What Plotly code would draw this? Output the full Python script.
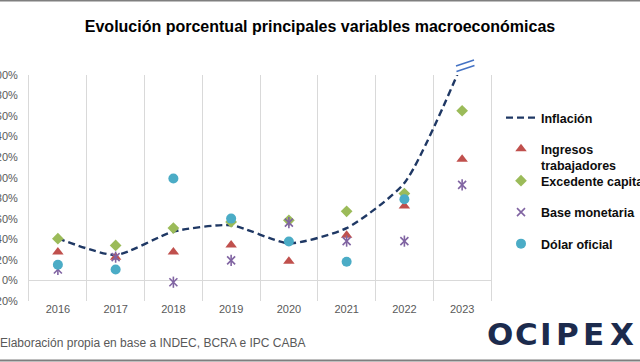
import plotly.graph_objects as go

# ---------------- data ----------------
years = ["2016", "2017", "2018", "2019", "2020", "2021", "2022", "2023"]
inflacion = [41.0, 24.8, 47.6, 53.8, 36.1, 50.9, 94.8, 211.4]
ingresos = [27.6, 22.7, 27.6, 34.4, 18.8, 43.9, 72.5, 118.0]
excedente = [40.7, 34.1, 51.0, 57.0, 58.5, 67.3, 84.6, 165.2]
base_monetaria = [10.7, 22.7, -1.7, 19.5, 56.3, 38.3, 38.3, 93.0]
dolar_oficial = [15.3, 10.7, 99.2, 60.2, 38.0, 18.2, 79.0, 220.5]
y_ticks = [-20, 0, 20, 40, 60, 80, 100, 120, 140, 160, 180, 200]
y_labels = [f"{v}%" for v in y_ticks]

x = list(range(len(years)))

W, H = 640, 362
ML, MR, MT, MB = 29, 149, 75, 61
PW, PH = W - ML - MR, H - MT - MB


def px2x(px):
    return (px - ML) / PW


def px2y(py):
    return (H - MB - py) / PH


FONT = "Liberation Sans, Arial, sans-serif"
GRID = "#d9d9d9"

fig = go.Figure()

fig.add_trace(go.Scatter(
    x=x, y=inflacion, name="Inflación", mode="lines",
    line=dict(color="#1f3864", width=2.4, dash="7px,4px", shape="spline",
              smoothing=0.6),
    legend="legend", cliponaxis=True))
fig.add_trace(go.Scatter(
    x=x, y=ingresos, name="Ingresos<br>trabajadores", mode="markers",
    marker=dict(symbol="triangle-up", size=10, color="#c0504d"),
    legend="legend2", cliponaxis=False))
fig.add_trace(go.Scatter(
    x=x, y=excedente, name="Excedente capital", mode="markers",
    marker=dict(symbol="diamond", size=9, color="#9bbb59"),
    legend="legend3", cliponaxis=False))
fig.add_trace(go.Scatter(
    x=x, y=base_monetaria, name="Base monetaria", mode="markers",
    marker=dict(symbol="x-thin-open", size=8, color="#8064a2",
                line=dict(width=1.6, color="#8064a2")),
    legend="legend4", cliponaxis=False))
fig.add_trace(go.Scatter(
    x=x, y=base_monetaria, name="Base monetaria", mode="markers",
    marker=dict(symbol="line-ns-open", size=8, color="#8064a2",
                line=dict(width=1.6, color="#8064a2")),
    showlegend=False, hoverinfo="skip", cliponaxis=False))
fig.add_trace(go.Scatter(
    x=x, y=dolar_oficial, name="Dólar oficial", mode="markers",
    marker=dict(symbol="circle", size=10, color="#4bacc6"),
    legend="legend5", cliponaxis=False))

leg_font = dict(family=FONT, size=12.5, color="#0d0d0d", weight="bold")


def leg(py, valign="middle"):
    return dict(x=px2x(501), y=px2y(py), xanchor="left", yanchor="middle",
                font=leg_font, bgcolor="rgba(0,0,0,0)", borderwidth=0,
                valign=valign)


# break marks, frame lines
shapes = [
    dict(type="line", xref="paper", yref="paper",
         x0=px2x(456), y0=px2y(66), x1=px2x(474), y1=px2y(60),
         line=dict(color="#4472c4", width=1.5)),
    dict(type="line", xref="paper", yref="paper",
         x0=px2x(456.5), y0=px2y(71.5), x1=px2x(474.5), y1=px2y(65.5),
         line=dict(color="#4472c4", width=1.5)),
    dict(type="line", xref="paper", yref="paper",
         x0=px2x(0), y0=px2y(0.5), x1=px2x(640), y1=px2y(0.5),
         line=dict(color="#7f7f7f", width=2)),
    dict(type="line", xref="paper", yref="paper",
         x0=px2x(0), y0=px2y(360.5), x1=px2x(640), y1=px2y(360.5),
         line=dict(color="#7f7f7f", width=2)),
]

annotations = [
    dict(text="Elaboración propia en base a INDEC, BCRA e IPC CABA",
         xref="paper", yref="paper", x=px2x(-2), y=px2y(342.5),
         xanchor="left", yanchor="middle", showarrow=False,
         font=dict(family=FONT, size=12, color="#595959")),
]
logo_letters = ["O", "C", "I", "P", "E", "X"]
logo_px = [500, 526, 546, 567, 593, 622]
for ch, lx in zip(logo_letters, logo_px):
    annotations.append(dict(
        text=ch, xref="paper", yref="paper", x=px2x(lx), y=px2y(333.5),
        xanchor="center", yanchor="middle", showarrow=False,
        font=dict(family="DejaVu Sans, sans-serif", size=31,
                  color="#1c2b4d", weight="bold")))

fig.update_layout(
    width=W, height=H,
    margin=dict(l=ML, r=MR, t=MT, b=MB, autoexpand=False),
    paper_bgcolor="white", plot_bgcolor="white",
    title=dict(text="Evolución porcentual principales variables macroeconómicas",
               x=0.5, xref="container", xanchor="center",
               y=1 - 26 / H, yref="container", yanchor="middle",
               font=dict(family=FONT, size=16, color="#000000", weight="bold")),
    legend=leg(118),
    legend2=leg(157, valign="top"),
    legend3=leg(181),
    legend4=leg(212.5),
    legend5=leg(244),
    shapes=shapes,
    annotations=annotations,
    xaxis=dict(range=[-0.5, 7.5], tickvals=x, ticktext=years,
               showgrid=False, zeroline=False, showline=False,
               tickfont=dict(family=FONT, size=11, color="#595959"),
               minor=dict(tick0=0.5, dtick=1, showgrid=True,
                          gridcolor=GRID, gridwidth=1)),
    yaxis=dict(range=[-20, 200], tickvals=y_ticks, ticktext=y_labels,
               showgrid=False, zeroline=True, zerolinecolor=GRID,
               zerolinewidth=1, showline=True, mirror=True, linecolor=GRID,
               linewidth=1, ticklabelstandoff=8,
               tickfont=dict(family=FONT, size=11, color="#595959")),
    showlegend=True,
)

fig.write_html("out.html",
               config={"displayModeBar": False},
               post_script="document.body.style.margin='0';"
                           "document.body.style.overflow='hidden';")
